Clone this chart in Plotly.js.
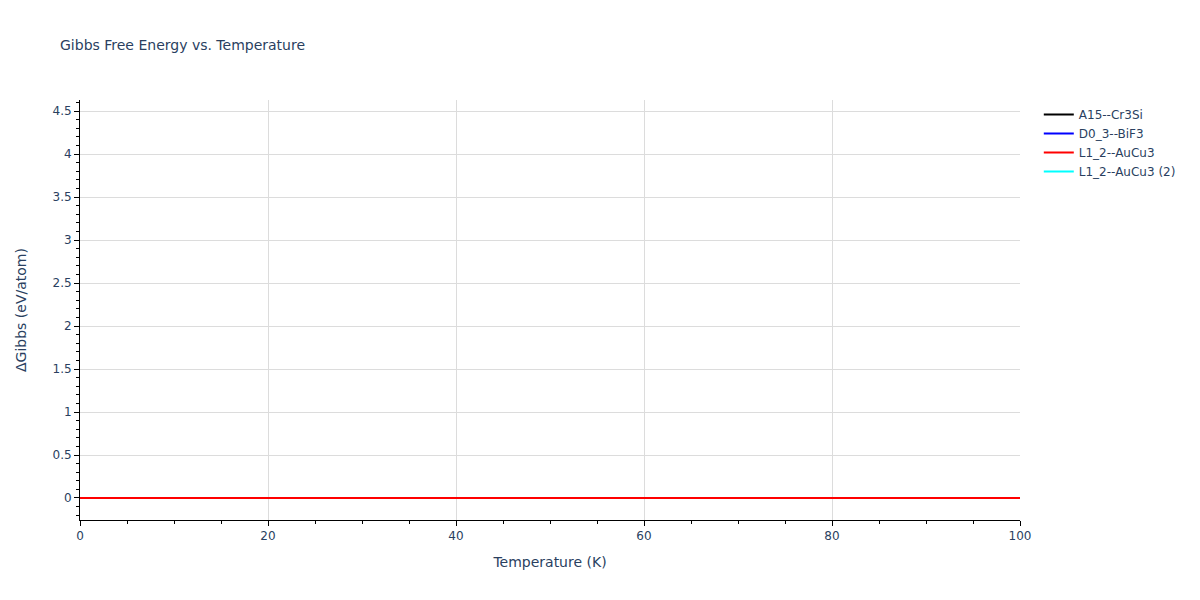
<!DOCTYPE html>
<html>
<head>
<meta charset="utf-8">
<script src="https://cdn.plot.ly/plotly-3.0.1.min.js"></script>
<style>body{margin:0;}#chart{width:1200px;height:600px;}</style>
</head>
<body>
<div id="chart"></div>
<script>
const seriesNames = ["A15--Cr3Si", "D0_3--BiF3", "L1_2--AuCu3", "L1_2--AuCu3 (2)"];
const seriesColors = ["black", "blue", "red", "cyan"];
const temperature = [0, 10, 20, 30, 40, 50, 60, 70, 80, 90, 100];
const gA15 = [0, 0, 0, 0, 0, 0, 0, 0, 0, 0, 0];
const gD03 = [0, 0, 0, 0, 0, 0, 0, 0, 0, 0, 0];
const gL12 = [0, 0, 0, 0, 0, 0, 0, 0, 0, 0, 0];
const gL12b = [0, 0, 0, 0, 0, 0, 0, 0, 0, 0, 0];
const seriesValues = [gA15, gD03, gL12, gL12b];

// draw the red series last (it is the one visible on top), keep legend order
const drawOrder = [0, 1, 3, 2];
const traces = drawOrder.map(i => ({
  x: temperature,
  y: seriesValues[i],
  mode: "lines",
  name: seriesNames[i],
  legendrank: i + 1,
  line: {color: seriesColors[i], width: 2}
}));

const layout = {
  width: 1200, height: 600,
  paper_bgcolor: "white", plot_bgcolor: "white",
  font: {family: "Verdana, 'DejaVu Sans', sans-serif", color: "#2a3f5f", size: 12},
  title: {text: "Gibbs Free Energy vs. Temperature", x: 0.05, font: {size: 14}},
  margin: {l: 80, r: 180, t: 100, b: 80},
  xaxis: {
    title: {text: "Temperature (K)", standoff: 14},
    automargin: true,
    range: [0, 100], dtick: 20,
    showline: true, linecolor: "black", linewidth: 1,
    ticks: "outside", tickcolor: "black",
    showgrid: true, gridcolor: "#dcdcdc",
    zeroline: false,
    minor: {dtick: 5, ticks: "outside", tickcolor: "black", showgrid: false}
  },
  yaxis: {
    title: {text: "ΔGibbs (eV/atom)", standoff: 22},
    automargin: true,
    range: [-0.256, 4.63], dtick: 0.5,
    showline: true, linecolor: "black", linewidth: 1,
    ticks: "outside", tickcolor: "black",
    showgrid: true, gridcolor: "#dcdcdc",
    zeroline: false,
    minor: {dtick: 0.1, ticks: "outside", tickcolor: "black", showgrid: false}
  },
  legend: {x: 1.02, y: 1, font: {size: 12}, traceorder: "normal"},
  showlegend: true
};

Plotly.newPlot("chart", traces, layout, {displayModeBar: false});
</script>
</body>
</html>
